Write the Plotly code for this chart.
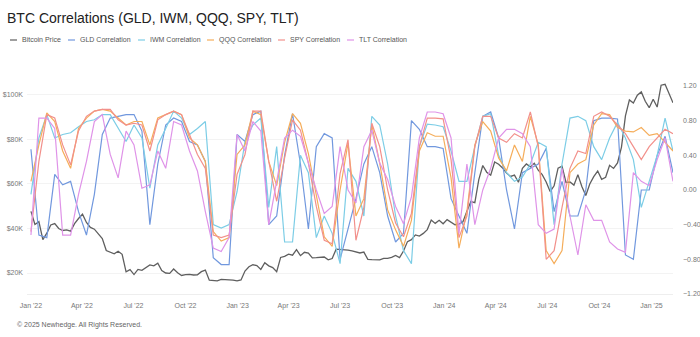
import pandas as pd
import plotly.graph_objects as go

# Weekly Bitcoin price (USD, thousands), starting 2022-01-01
btc_start = "2022-01-01"
btc_price_k = [
    47.7, 41.8, 43.1, 35.0, 37.9, 41.6, 42.2, 40.0, 39.1, 39.4, 38.8, 42.2, 44.5,
    46.4, 42.7, 40.5, 39.7, 37.7, 35.5, 30.1, 29.4, 28.6, 29.8, 28.4, 20.5, 21.5,
    19.3, 21.6, 21.2, 22.6, 23.6, 23.2, 24.4, 21.1, 20.0, 19.8, 21.8, 20.1, 18.9,
    19.3, 19.4, 19.1, 19.2, 20.6, 21.3, 16.8, 16.7, 16.5, 17.1, 17.1, 16.8, 16.8, 16.5,
    16.9, 20.9, 22.8, 23.7, 23.3, 21.6, 24.6, 23.2, 22.4, 20.6, 27.0, 27.5,
    28.5, 28.0, 30.5, 27.8, 29.3, 28.9, 26.8, 26.9, 26.9, 27.2, 25.9, 26.5, 30.7,
    30.6, 30.3, 30.3, 29.9, 29.3, 29.0, 29.4, 26.1, 26.0, 25.9, 25.9, 26.6, 26.6, 27.0,
    27.9, 26.9, 29.9, 34.1, 35.0, 37.1, 36.6, 37.8, 39.5, 43.8, 42.3, 43.7, 42.1,
    44.0, 42.8, 41.7, 42.0, 43.0, 47.8, 52.1, 51.6, 62.0, 68.3, 65.3, 64.0, 69.9,
    68.9, 67.2, 64.9, 63.4, 64.0, 60.8, 67.0, 69.0, 67.7, 69.3, 66.2, 64.2, 60.9,
    56.6, 59.2, 67.1, 68.0, 60.7, 60.9, 59.5, 64.2, 58.9, 54.8, 60.0, 63.3, 65.8,
    62.1, 63.0, 68.4, 67.0, 69.5, 76.6, 90.6, 97.8, 96.4, 99.9, 101.4, 97.2, 94.3,
    98.1, 94.6, 104.4, 104.8, 100.7, 96.5,
]

# Rolling correlations with BTC, sampled every two weeks from 2022-01-01
corr_start = "2022-01-01"
gld_corr = [
    0.47, -0.52, -0.55, 0.18, 0.06, 0.10, -0.25, -0.52, -0.05, 0.64, 0.83, 0.85, 0.87, 0.87, 0.68, -0.40, 0.30,
    0.75, 0.83, 0.79, 0.56, 0.52, 0.33, -0.78, -0.86, -0.86, 0.64, 0.56, 0.87, 0.91, -0.40, -0.30, 0.40,
    0.88, 0.30, -0.45, 0.50, 0.65, 0.60, -0.80, -0.45, -0.10, 0.30, 0.50, 0.20, -0.30, -0.60, -0.50, 0.80,
    0.70, 0.50, 0.50, 0.48, -0.10, -0.30, -0.50, 0.20, 0.85, 0.90, 0.60, 0.00, -0.45, 0.20, 0.25, 0.30,
    0.48, -0.25, 0.10, -0.30, -0.30, 0.00, 0.80, 0.83, 0.83, 0.82, -0.75, -0.80, 0.00, 0.00, 0.40, 0.62, 0.20,
]
iwm_corr = [
    -0.05, 0.60, 0.87, 0.60, 0.64, 0.66, 0.73, 0.79, 0.81, 0.87, 0.87, 0.71, 0.56, 0.75, 0.60, 0.02, 0.52,
    0.71, 0.91, 0.83, 0.64, 0.71, 0.79, -0.40, -0.44, -0.40, -0.02, 0.56, 0.75, 0.83, -0.20, 0.50, -0.60,
    -0.60, 0.40, 0.20, -0.55, -0.30, -0.50, -0.85, 0.25, 0.10, -0.30, 0.85, 0.75, 0.30, -0.30, -0.70, -0.85,
    0.50, 0.76, 0.75, 0.73, 0.45, 0.10, 0.10, 0.50, 0.85, 0.88, 0.40, 0.20, 0.10, 0.15, 0.30, 0.55,
    0.50, -0.40, 0.30, 0.83, 0.85, 0.80, 0.50, 0.35, 0.60, 0.78, 0.60, 0.35, -0.20, 0.10, 0.40, 0.83, 0.45,
]
qqq_corr = [
    0.10, 0.52, 0.89, 0.79, 0.45, 0.25, 0.71, 0.83, 0.91, 0.93, 0.91, 0.83, 0.75, 0.79, 0.79, 0.52, 0.83,
    0.87, 0.91, 0.87, 0.60, 0.52, 0.33, -0.48, -0.59, -0.55, 0.41, 0.52, 0.91, 0.87, 0.33, 0.05, 0.55,
    0.88, 0.77, 0.42, -0.08, -0.54, -0.65, 0.00, 0.54, -0.30, -0.10, 0.75, 0.31, -0.23, -0.46, -0.65, -0.35,
    0.45, 0.66, 0.62, 0.62, 0.14, -0.67, -0.25, 0.52, 0.79, 0.68, 0.37, 0.22, 0.52, 0.33, 0.85, 0.52,
    -0.70, -0.85, -0.70, 0.20, 0.30, 0.35, 0.75, 0.88, 0.87, 0.72, 0.68, 0.67, 0.72, 0.63, 0.65, 0.55, 0.45,
]
spy_corr = [
    -0.48, 0.33, 0.87, 0.83, 0.52, 0.29, 0.68, 0.85, 0.91, 0.93, 0.93, 0.81, 0.75, 0.77, 0.75, 0.45, 0.81,
    0.87, 0.91, 0.87, 0.64, 0.41, 0.25, -0.52, -0.55, -0.52, 0.18, 0.41, 0.91, 0.91, 0.33, -0.13, 0.37,
    0.81, 0.69, 0.31, -0.19, -0.58, -0.62, 0.19, 0.58, -0.58, -0.20, 0.77, 0.50, 0.00, -0.38, -0.54, -0.27,
    0.50, 0.83, 0.83, 0.82, 0.35, -0.55, -0.30, 0.50, 0.85, 0.85, 0.60, 0.55, 0.65, 0.60, 0.90, 0.50,
    -0.80, -0.70, -0.20, 0.25, 0.45, 0.42, 0.85, 0.90, 0.85, 0.75, 0.65, 0.50, 0.35, 0.50, 0.60, 0.70, 0.65,
]
tlt_corr = [
    -0.52, 0.83, 0.83, 0.71, -0.52, -0.52, -0.05, 0.33, 0.79, 0.87, 0.41, 0.14, 0.68, 0.52, 0.02, 0.06, 0.45,
    0.25, 0.79, 0.75, 0.45, 0.22, -0.25, -0.67, -0.71, -0.55, 0.64, 0.45, 0.79, 0.68, -0.40, 0.10, 0.60,
    0.69, 0.62, 0.31, 0.00, -0.27, -0.19, 0.50, 0.00, -0.15, 0.50, 0.69, 0.31, 0.12, -0.19, -0.39, -0.08,
    0.60, 0.90, 0.90, 0.88, 0.60, -0.50, 0.30, -0.40, 0.00, 0.25, 0.60, 0.70, 0.70, 0.65, 0.50, -0.40,
    -0.50, -0.45, 0.25, -0.30, -0.75, -0.17, -0.35, -0.35, -0.60, -0.68, -0.72, 0.20, 0.10, 0.05, 0.35, 0.60, 0.10,
]

# Axis labels
x_tick_dates = ["2022-01-01", "2022-04-01", "2022-07-01", "2022-10-01",
                "2023-01-01", "2023-04-01", "2023-07-01", "2023-10-01",
                "2024-01-01", "2024-04-01", "2024-07-01", "2024-10-01", "2025-01-01"]
x_tick_labels = ["Jan '22", "Apr '22", "Jul '22", "Oct '22", "Jan '23", "Apr '23",
                 "Jul '23", "Oct '23", "Jan '24", "Apr '24", "Jul '24", "Oct '24", "Jan '25"]
price_ticks = [20000, 40000, 60000, 80000, 100000]
price_tick_labels = ["$20K", "$40K", "$60K", "$80K", "$100K"]
corr_ticks = [-1.2, -0.8, -0.4, 0.0, 0.4, 0.8, 1.2]

series_names = ["Bitcoin Price", "GLD Correlation", "IWM Correlation",
                "QQQ Correlation", "SPY Correlation", "TLT Correlation"]
colors = {
    "Bitcoin Price": "#5f5f5f",
    "GLD Correlation": "#7198de",
    "IWM Correlation": "#7ccde6",
    "QQQ Correlation": "#f5ad5a",
    "SPY Correlation": "#f2908b",
    "TLT Correlation": "#df93e8",
}

btc_dates = pd.date_range(btc_start, periods=len(btc_price_k), freq="7D")
corr_dates = pd.date_range(corr_start, periods=len(gld_corr), freq="14D")

fig = go.Figure()

corr_data = {
    "GLD Correlation": gld_corr,
    "IWM Correlation": iwm_corr,
    "QQQ Correlation": qqq_corr,
    "SPY Correlation": spy_corr,
    "TLT Correlation": tlt_corr,
}
for name, vals in corr_data.items():
    fig.add_trace(go.Scatter(
        x=corr_dates, y=vals, name=name, mode="lines", yaxis="y2",
        line=dict(color=colors[name], width=1.2),
    ))

fig.add_trace(go.Scatter(
    x=btc_dates, y=[v * 1000 for v in btc_price_k], name="Bitcoin Price",
    mode="lines", yaxis="y", line=dict(color=colors["Bitcoin Price"], width=1.3),
))

# Plot area geometry (pixels) used for the hand-built legend and texts
L, R, T, B = 27, 27, 82, 43
W, H = 700, 337
pw, ph = W - L - R, H - T - B


def px_to_paper(px, py):
    return (px - L) / pw, (H - B - py) / ph


legend_x = [10, 68, 138, 207, 278, 347]
shapes, annotations = [], []
for name, x0 in zip(series_names, legend_x):
    sx0, sy = px_to_paper(x0, 40)
    sx1, _ = px_to_paper(x0 + 7, 40)
    shapes.append(dict(type="line", xref="paper", yref="paper", x0=sx0, x1=sx1,
                       y0=sy, y1=sy, line=dict(color=colors[name], width=1.2)))
    tx, _ = px_to_paper(x0 + 10, 40)
    annotations.append(dict(xref="paper", yref="paper", x=tx, y=sy, text=name,
                            showarrow=False, xanchor="left", yanchor="middle",
                            font=dict(size=7, color="#555")))

tx, ty = px_to_paper(5, 18)
annotations.append(dict(xref="paper", yref="paper", x=tx, y=ty,
                        text="BTC Correlations (GLD, IWM, QQQ, SPY, TLT)",
                        showarrow=False, xanchor="left", yanchor="middle",
                        font=dict(size=14, color="#222")))
fx, fy = px_to_paper(15, 325)
annotations.append(dict(xref="paper", yref="paper", x=fx, y=fy,
                        text="© 2025 Newhedge. All Rights Reserved.",
                        showarrow=False, xanchor="left", yanchor="middle",
                        font=dict(size=7, color="#666")))

fig.update_layout(
    width=W, height=H,
    margin=dict(l=L, r=R, t=T, b=B, autoexpand=False),
    paper_bgcolor="white", plot_bgcolor="white",
    showlegend=False,
    font=dict(family="Liberation Sans, Arial, sans-serif", size=7, color="#777"),
    xaxis=dict(
        type="date", range=["2021-12-25", "2025-02-08"],
        tickvals=x_tick_dates, ticktext=x_tick_labels, automargin=False,
        showgrid=False, showline=True, linecolor="#eeeeee", linewidth=1,
        ticks="", tickfont=dict(size=7, color="#777"), ticklabelstandoff=5,
    ),
    yaxis=dict(
        range=[10560, 105840], tickvals=price_ticks, ticktext=price_tick_labels,
        showgrid=True, gridcolor="#f3f3f3", zeroline=False, automargin=False,
        tickfont=dict(size=7, color="#777"), ticks="", ticklabelstandoff=3,
    ),
    yaxis2=dict(
        overlaying="y", side="right", range=[-1.2, 1.246], automargin=False,
        tickvals=corr_ticks, tickformat=".2f", showgrid=False, zeroline=False,
        tickfont=dict(size=7, color="#777"), ticks="", ticklabelstandoff=9,
    ),
    shapes=shapes, annotations=annotations,
)

fig.write_html("out.html")
